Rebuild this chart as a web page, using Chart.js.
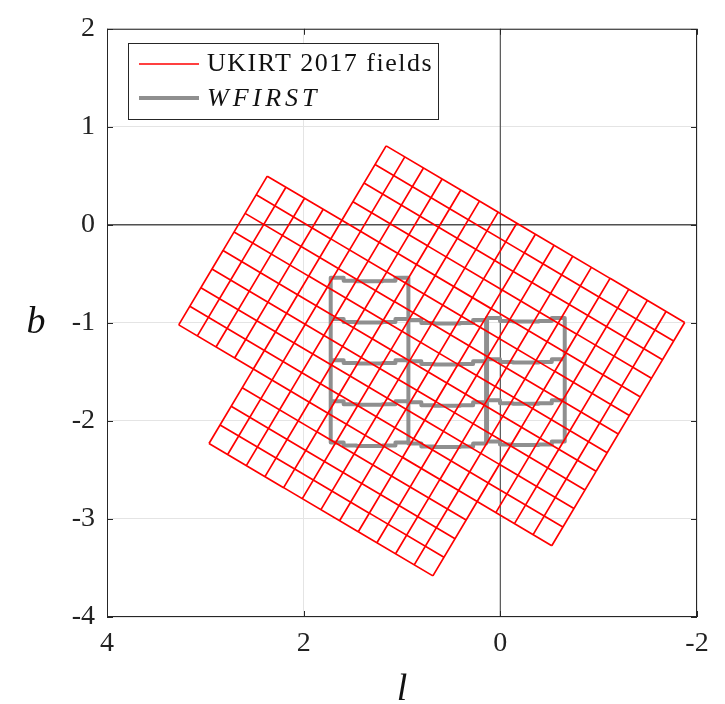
<!DOCTYPE html>
<html>
<head>
<meta charset="utf-8">
<script src="https://cdn.jsdelivr.net/npm/chart.js@4.4.0/dist/chart.umd.min.js"></script>
<style>
  html, body { margin: 0; padding: 0; background: #fff; }
  #wrap { width: 725px; height: 704px; }
</style>
</head>
<body>
<div id="wrap"><canvas id="fieldChart" width="725" height="704"></canvas></div>
<script>
// UKIRT 2017 tiles, centre of each 4x4 block of detector cells (deg)
const tileL = [2.216, 2.666, 1.007, 1.457, 1.907, 0.248, 0.698, 1.149, -0.511,
               -0.061, 0.389, -1.270, -0.820, -0.369, 2.358, 1.599, 0.840];
const tileB = [-0.108, -0.866, 0.201, -0.558, -1.317, -0.250, -1.008, -1.767, -0.700,
               -1.459, -2.218, -1.150, -1.909, -2.668, -2.076, -2.526, -2.976];
const tileCell = 0.2206;   // deg, one detector cell
const tileAngle = 30.7;    // deg
const cellsPerSide = 4;

// WFIRST fields, centre of each footprint (deg)
const fieldL = [1.33, 1.33, 1.33, 1.33, 0.54, 0.54, 0.54, -0.26, -0.26, -0.26];
const fieldB = [-0.75, -1.17, -1.59, -2.01, -1.18, -1.60, -2.02, -1.16, -1.58, -2.00];
const fieldW = 0.79;
const fieldH = 0.42;
const fieldColDip = [0, 0.03, 0.035, 0.035, 0.03, 0];  // column stagger of the focal plane

const xTicks = [4, 2, 0, -2];
const yTicks = [2, 1, 0, -1, -2, -3, -4];

const SERIF = '"Liberation Serif", "DejaVu Serif", serif';
const GAP = { x: null, y: null };

function tileSegments() {
    const pts = [];
    const t = tileAngle * Math.PI / 180;
    const u = [-Math.cos(t) * tileCell, -Math.sin(t) * tileCell];
    const v = [Math.sin(t) * tileCell, -Math.cos(t) * tileCell];
    const h = cellsPerSide / 2;
    tileL.forEach((cl, n) => {
        const cb = tileB[n];
        const at = (a, b) => ({ x: cl + a * u[0] + b * v[0], y: cb + a * u[1] + b * v[1] });
        for (let k = -h; k <= h; k++) {
            pts.push(at(k, -h), at(k, h), GAP);
            pts.push(at(-h, k), at(h, k), GAP);
        }
    });
    return pts;
}

function fieldOutlines() {
    const pts = [];
    const n = fieldColDip.length;
    const cw = fieldW / n;
    fieldL.forEach((cl, i) => {
        const cb = fieldB[i];
        const left = cl + fieldW / 2; // larger l sits on the left
        const ring = [];
        for (let k = 0; k < n; k++) {
            const yt = cb + fieldH / 2 - fieldColDip[k];
            ring.push({ x: left - k * cw, y: yt }, { x: left - (k + 1) * cw, y: yt });
        }
        for (let k = n - 1; k >= 0; k--) {
            const yb = cb - fieldH / 2 - fieldColDip[k];
            ring.push({ x: left - (k + 1) * cw, y: yb }, { x: left - k * cw, y: yb });
        }
        ring.push(ring[0]);
        pts.push(...ring, GAP);
    });
    return pts;
}

// frame, inward ticks, legend box and axis titles (MATLAB style)
const framePlugin = {
    id: 'frame',
    afterDraw(chart) {
        const { ctx, chartArea: a, scales } = chart;
        ctx.save();
        ctx.strokeStyle = '#262626';
        ctx.lineWidth = 1;
        ctx.strokeRect(a.left + 0.5, a.top + 0.5, a.right - a.left - 1, a.bottom - a.top - 1);

        const tl = 6;
        ctx.beginPath();
        xTicks.forEach(v => {
            const px = Math.round(scales.x.getPixelForValue(v)) + 0.5;
            ctx.moveTo(px, a.bottom); ctx.lineTo(px, a.bottom - tl);
            ctx.moveTo(px, a.top); ctx.lineTo(px, a.top + tl);
        });
        yTicks.forEach(v => {
            const py = Math.round(scales.y.getPixelForValue(v)) + 0.5;
            ctx.moveTo(a.left, py); ctx.lineTo(a.left + tl, py);
            ctx.moveTo(a.right, py); ctx.lineTo(a.right - tl, py);
        });
        ctx.stroke();

        // legend
        const bx = 128, by = 43, bw = 310, bh = 76;
        ctx.fillStyle = '#fff';
        ctx.fillRect(bx, by, bw, bh);
        ctx.strokeRect(bx + 0.5, by + 0.5, bw, bh);
        ctx.lineCap = 'butt';
        ctx.strokeStyle = '#ff0000';
        ctx.lineWidth = 1.5;
        ctx.beginPath(); ctx.moveTo(139, 64); ctx.lineTo(199, 64); ctx.stroke();
        ctx.strokeStyle = '#8f8f8f';
        ctx.lineWidth = 4;
        ctx.beginPath(); ctx.moveTo(139, 98); ctx.lineTo(199, 98); ctx.stroke();
        ctx.fillStyle = '#111';
        ctx.textBaseline = 'middle';
        ctx.textAlign = 'left';
        ctx.font = '26px ' + SERIF;
        ctx.letterSpacing = '1.5px';
        ctx.fillText('UKIRT 2017 fields', 207, 64);
        ctx.font = 'italic 26px ' + SERIF;
        ctx.letterSpacing = '4px';
        ctx.fillText('WFIRST', 207, 99);
        ctx.letterSpacing = '0px';

        // axis titles
        ctx.textAlign = 'center';
        ctx.font = 'italic 38px ' + SERIF;
        ctx.fillText('l', (a.left + a.right) / 2, 690);
        ctx.fillText('b', 36, 323);
        ctx.restore();
    }
};

const ctx = document.getElementById('fieldChart').getContext('2d');
new Chart(ctx, {
    type: 'scatter',
    data: {
        datasets: [
            {
                label: 'UKIRT 2017 fields',
                data: tileSegments(),
                showLine: true,
                spanGaps: false,
                borderColor: '#ff0000',
                borderWidth: 1.7,
                pointRadius: 0,
                order: 0
            },
            {
                label: 'WFIRST',
                data: fieldOutlines(),
                showLine: true,
                spanGaps: false,
                borderColor: '#8f8f8f',
                borderWidth: 4,
                borderJoinStyle: 'round',
                borderCapStyle: 'round',
                pointRadius: 0,
                order: 1
            },
            {
                label: 'b = 0',
                data: [{ x: 4, y: 0 }, { x: -2, y: 0 }],
                showLine: true,
                borderColor: '#000',
                borderWidth: 1,
                pointRadius: 0,
                order: 2
            },
            {
                label: 'l = 0',
                data: [{ x: 0, y: -4 }, { x: 0, y: 2 }],
                showLine: true,
                borderColor: '#555',
                borderWidth: 1.2,
                pointRadius: 0,
                order: 2
            }
        ]
    },
    options: {
        responsive: false,
        animation: false,
        layout: { padding: { left: 0, right: 28, top: 25, bottom: 0 } },
        plugins: {
            legend: { display: false },
            tooltip: { enabled: false }
        },
        scales: {
            x: {
                type: 'linear',
                min: -2,
                max: 4,
                reverse: true,
                afterFit: s => { s.height = 87; },
                afterBuildTicks: s => { s.ticks = xTicks.map(v => ({ value: v })); },
                ticks: { font: { family: SERIF, size: 28 }, color: '#222', padding: 10, maxRotation: 0 },
                grid: { color: '#e4e4e4', drawTicks: false },
                border: { display: false }
            },
            y: {
                type: 'linear',
                min: -4,
                max: 2,
                afterFit: s => { s.width = 107; },
                afterBuildTicks: s => { s.ticks = yTicks.map(v => ({ value: v })); },
                ticks: { font: { family: SERIF, size: 28 }, color: '#222', padding: 12 },
                grid: { color: '#e4e4e4', drawTicks: false },
                border: { display: false }
            }
        }
    },
    plugins: [framePlugin]
});
</script>
</body>
</html>
